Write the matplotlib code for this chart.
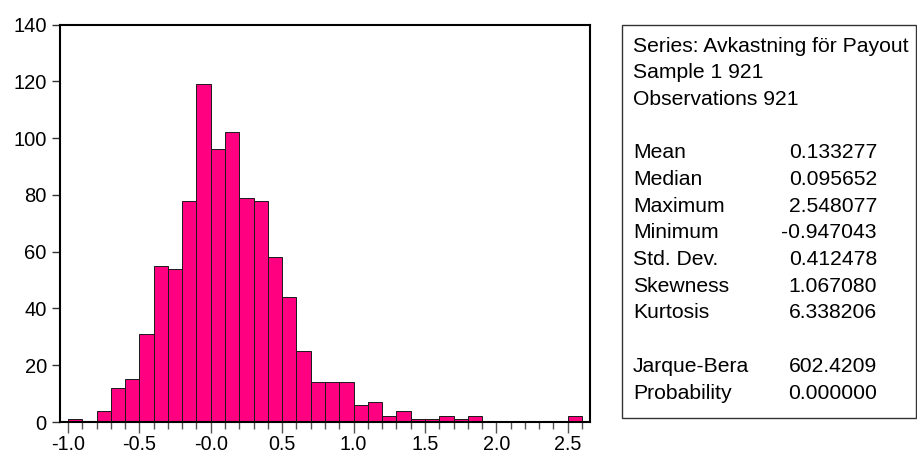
import numpy as np
import matplotlib.pyplot as plt
from matplotlib.patches import Rectangle
from matplotlib.ticker import MultipleLocator

plt.rcParams['font.family'] = ['Liberation Sans', 'DejaVu Sans']

# Histogram bins (width 0.1, left edges) and counts
bin_left = np.round(np.arange(-1.0, 2.6, 0.1), 2)
counts = [1, 0, 4, 12, 15, 31, 55, 54, 78, 119,
          96, 102, 79, 78, 58, 44, 25, 14, 14, 14,
          6, 7, 2, 4, 1, 1, 2, 1, 2, 0,
          0, 0, 0, 0, 0, 2]

stat_names = ["Mean", "Median", "Maximum", "Minimum", "Std. Dev.",
              "Skewness", "Kurtosis"]
stat_values = ["0.133277", "0.095652", "2.548077", "-0.947043",
               "0.412478", "1.067080", "6.338206"]
test_names = ["Jarque-Bera", "Probability"]
test_values = ["602.4209", "0.000000"]
header = ["Series: Avkastning för Payout", "Sample 1 921", "Observations 921"]

W, H = 917, 457
fig = plt.figure(figsize=(W / 100, H / 100), dpi=100)
ax = fig.add_axes([60 / W, 1 - 422 / H, 530 / W, (422 - 24.5) / H])

ax.bar(bin_left, counts, width=0.1, align='edge', color='#FF0080',
       edgecolor='#1a1a1a', linewidth=0.7)

ax.set_xlim(-1.056, 2.656)
ax.set_ylim(0, 140)
ax.set_yticks(range(0, 141, 20))
ax.set_xticks([-1.0, -0.5, 0.0, 0.5, 1.0, 1.5, 2.0, 2.5])
ax.set_xticklabels(["-1.0", "-0.5", "-0.0", "0.5", "1.0", "1.5", "2.0", "2.5"])
ax.xaxis.set_minor_locator(MultipleLocator(0.1))

for s in ax.spines.values():
    s.set_linewidth(1.5)
    s.set_color('black')

ax.tick_params(axis='y', length=6, width=1, color='#333333', pad=3.5,
               labelsize=14.5)
ax.tick_params(axis='x', which='major', length=8, width=1, color='#555555',
               pad=1.5, labelsize=14.2)
ax.tick_params(axis='x', which='minor', length=5, width=1, color='#555555')

# Statistics box
fig.patches.append(Rectangle((622 / W, 1 - 418 / H), (916 - 622) / W, (418 - 25) / H,
                             transform=fig.transFigure, fill=False,
                             edgecolor='#333333', linewidth=1.0))

lines = [(h, None) for h in header] + [("", None)]
lines += list(zip(stat_names, stat_values)) + [("", None)]
lines += list(zip(test_names, test_values))

for i, (name, val) in enumerate(lines):
    y = 1 - (46 + i * 26.7) / H
    fig.text(633 / W, y, name, ha='left', va='center', fontsize=15.2)
    if val is not None:
        fig.text(877 / W, y, val, ha='right', va='center', fontsize=15.2)

fig.savefig("out.png", dpi=100)
